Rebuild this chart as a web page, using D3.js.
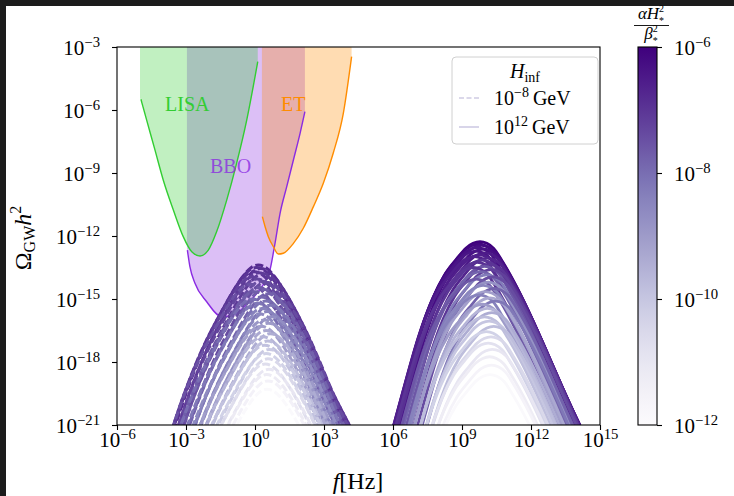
<!DOCTYPE html>
<html>
<head>
<meta charset="utf-8">
<script src="https://cdn.jsdelivr.net/npm/d3@7"></script>
<style>
	body { margin: 0; background: #fff; }
	svg { display: block; font-family: "Liberation Serif", "DejaVu Serif", serif; }
</style>
</head>
<body>
<svg id="chart" width="734" height="496"></svg>
<script>
// tick exponents (labels are 10^n)
const xTickExps = [-6, -3, 0, 3, 6, 9, 12, 15];
const yTickExps = [-21, -18, -15, -12, -9, -6, -3];
const cbarTickExps = [-12, -10, -8, -6];

// detector sensitivity curves, log10 f and log10 Omega h^2
const lisaLogF = [-5.0, -4.96, -4.71, -4.35, -3.99, -3.55, -3.12, -2.75, -2.39, -2.03, -1.67, -1.23, -0.80, -0.36, 0.12];
const lisaLogOmega = [-5.45, -5.49, -6.48, -7.9, -9.33, -10.76, -12.03, -12.75, -12.95, -12.67, -11.8, -10.29, -8.54, -6.48, -3.7];
const etLogF = [0.30, 0.32, 0.44, 0.58, 0.80, 1.01, 1.23, 1.67, 2.10, 2.54, 2.97, 3.40, 3.84, 4.20];
const etLogOmega = [-11.0, -11.08, -11.56, -12.03, -12.51, -12.86, -12.82, -12.35, -11.63, -10.6, -9.49, -8.06, -6.16, -3.46];
const bboLogF = [-2.96, -2.94, -2.83, -2.61, -2.10, -1.45, -0.9, -0.4, 0.1, 0.4, 0.65, 0.87, 1.09, 1.38, 1.67, 1.96, 2.17];
const bboLogOmega = [-12.6, -12.67, -13.46, -14.25, -15.13, -15.84, -15.75, -15.3, -14.7, -14.25, -13.62, -12.35, -10.92, -9.65, -8.38, -7.11, -6.08];

// spectral shape around the peak (offsets in decades)
const shapeLogDF = [-5, -4.5, -4, -3.5, -3, -2.5, -2, -1.5, -1, -0.6, -0.3, 0, 0.3, 0.6, 1, 1.5, 2, 2.5, 3, 3.5, 4, 4.5, 5];
const lowShapeLogDO = [-12.4, -10.7, -9.0, -7.3, -5.7, -4.3, -3.1, -2.07, -1.1, -0.45, -0.12, 0, -0.1, -0.4, -1.0, -1.95, -3.05, -4.3, -5.6, -6.7, -7.75, -8.9, -10.0];
const highShapeLogDO = [-14.0, -12.0, -10.0, -8.0, -6.0, -4.1, -2.6, -1.52, -0.8, -0.3, -0.08, 0, -0.08, -0.32, -0.98, -1.95, -3.05, -4.25, -5.5, -6.75, -7.95, -9.1, -10.3];

// H_inf = 1e-8 GeV spectra (dashed): peak position and colour value
const lowPeakLogF = [0.14, 0.06, 0.24, -0.04, 0.16, 0.36, -0.12, 0.08, 0.28, 0.48, -0.22, 0.18, 0.40, -0.02, 0.58, 0.26, -0.12, 0.46, 0.10, 0.66,
	0.32, 0.52, 0.18, 0.72, 0.40, 0.58, 0.26, 0.48, 0.66, 0.34, 0.54, 0.42, 0.62, 0.48, 0.56, 0.44, 0.60, 0.50, 0.56, 0.52];
const lowPeakLogOmega = [-13.38, -13.5, -13.55, -13.7, -13.75, -13.8, -13.95, -14.05, -14.15, -14.2, -14.3, -14.45, -14.55, -14.65, -14.75, -14.9, -15.0, -15.1, -15.2, -15.3,
	-15.45, -15.6, -15.7, -15.85, -16.0, -16.15, -16.3, -16.5, -16.65, -16.8, -17.0, -17.2, -17.4, -17.6, -17.85, -18.1, -18.35, -18.6, -18.9, -19.3];
const lowLogColor = [-6.8, -6.9, -6.9, -7.0, -7.1, -7.1, -7.2, -7.3, -7.4, -7.4, -7.5, -7.6, -7.7, -7.7, -7.8, -7.9, -8.0, -8.1, -8.2, -8.2,
	-8.4, -8.5, -8.6, -8.7, -8.9, -9.0, -9.1, -9.3, -9.4, -9.6, -9.8, -9.9, -10.1, -10.3, -10.5, -10.7, -11.0, -11.2, -11.5, -11.9];

// H_inf = 1e12 GeV spectra (solid)
const highPeakLogF = [9.78, 9.72, 9.86, 9.66, 9.92, 9.60, 10.00, 9.76, 9.54, 10.10, 9.88, 9.66, 10.18, 9.98, 9.50, 10.26, 9.80, 10.06, 10.34, 9.62,
	10.14, 9.92, 10.40, 10.02, 9.74, 10.22, 10.46, 9.88, 10.10, 10.30, 9.98, 10.18, 10.38, 10.06, 10.26, 10.14, 10.32, 10.20, 10.28, 10.22];
const highPeakLogOmega = [-12.27, -12.38, -12.45, -12.55, -12.62, -12.72, -12.8, -12.9, -12.98, -13.05, -13.15, -13.25, -13.35, -13.45, -13.5, -13.6, -13.7, -13.85, -13.95, -14.05,
	-14.2, -14.35, -14.5, -14.65, -14.8, -14.95, -15.1, -15.25, -15.45, -15.65, -15.85, -16.05, -16.3, -16.55, -16.8, -17.1, -17.4, -17.75, -18.15, -18.6];
const highLogColor = [-6.0, -6.1, -6.2, -6.3, -6.3, -6.4, -6.5, -6.6, -6.6, -6.7, -7.0, -6.9, -7.0, -7.6, -7.0, -7.2, -7.8, -8.3, -7.4, -7.6,
	-8.8, -8.5, -7.8, -9.1, -8.4, -9.3, -8.2, -9.0, -9.6, -9.4, -9.8, -10.0, -9.8, -10.3, -10.5, -10.8, -11.0, -11.3, -11.6, -11.9];

const svg = d3.select('#chart');
const W = 734, H = 496;
const p = (e) => Math.pow(10, e);

// dark frame strips of the screenshot
svg.append('rect').attr('x', 0).attr('y', 0).attr('width', W).attr('height', 6).attr('fill', '#1c1c1c');
svg.append('rect').attr('x', 0).attr('y', 0).attr('width', 6).attr('height', H).attr('fill', '#1c1c1c');

const x = d3.scaleLog().domain([1e-6, 1e15]).range([117, 600]);
const y = d3.scaleLog().domain([1e-21, 1e-3]).range([425, 47]);
const cScale = d3.scaleLog().domain([1e-12, 1e-6]).range([0, 1]);
const colour = (e) => d3.interpolatePurples(cScale(p(e)));

const x0 = x.range()[0], x1 = x.range()[1], y0 = y.range()[1], y1 = y.range()[0];

svg.append('clipPath').attr('id', 'plotclip')
	.append('rect').attr('x', x0).attr('y', y0).attr('width', x1 - x0).attr('height', y1 - y0);

const plot = svg.append('g').attr('clip-path', 'url(#plotclip)');

// detector regions
function detector(logF, logO, col) {
	const pts = logF.map((f, i) => [p(f), p(logO[i])]);
	const area = d3.area()
		.x(d => x(d[0]))
		.y0(y(1e-3) - 2)
		.y1(d => y(d[1]))
		.curve(d3.curveMonotoneX);
	plot.append('path').datum(pts).attr('d', area)
		.attr('fill', col).attr('fill-opacity', 0.3);
	return pts;
}
const bboPts = detector(bboLogF, bboLogOmega, 'blueviolet');
const lisaPts = detector(lisaLogF, lisaLogOmega, 'limegreen');
const etPts = detector(etLogF, etLogOmega, 'darkorange');

const line = d3.line().x(d => x(d[0])).y(d => y(d[1])).curve(d3.curveMonotoneX);
[[bboPts, 'blueviolet'], [lisaPts, 'limegreen'], [etPts, 'darkorange']].forEach(([pts, col]) => {
	plot.append('path').datum(pts.slice(1)).attr('d', line)
		.attr('fill', 'none').attr('stroke', col).attr('stroke-width', 1.4);
});

// GW spectra
function family(peakF, peakO, logC, shape, width, dash) {
	const g = plot.append('g');
	peakF.forEach((pf, i) => {
		const pts = shapeLogDF.map((df, k) => [p(pf + df), p(peakO[i] + shape[k])]);
		g.append('path').datum(pts).attr('d', line)
			.attr('fill', 'none')
			.attr('stroke', colour(logC[i]))
			.attr('stroke-width', width)
			.attr('stroke-dasharray', dash);
	});
}
family(lowPeakLogF, lowPeakLogOmega, lowLogColor, lowShapeLogDO, 3, '8,3');
family(highPeakLogF, highPeakLogOmega, highLogColor, highShapeLogDO, 2.8, null);

// detector labels
svg.append('text').attr('x', 165).attr('y', 111).attr('font-size', 20).attr('fill', 'limegreen').text('LISA');
svg.append('text').attr('x', 281).attr('y', 111).attr('font-size', 20).attr('fill', 'darkorange').text('ET');
svg.append('text').attr('x', 210).attr('y', 173).attr('font-size', 20).attr('fill', 'blueviolet').attr('fill-opacity', 0.8).text('BBO');

// frame
svg.append('rect').attr('x', x0).attr('y', y0).attr('width', x1 - x0).attr('height', y1 - y0)
	.attr('fill', 'none').attr('stroke', '#000').attr('stroke-width', 1.1);

const fs = 21;

function powLabel(text, e, size) {
	text.text(null);
	text.append('tspan').text('10');
	text.append('tspan').attr('dy', -8).attr('font-size', size * 0.7)
		.text(e < 0 ? '\u2212' + (-e) : String(e));
}

function styleAxis(g, textAttrs) {
	g.attr('font-family', null).attr('font-size', fs);
	g.select('.domain').remove();
	g.selectAll('.tick line').attr('stroke-width', 1.1);
	const t = g.selectAll('.tick text');
	Object.entries(textAttrs).forEach(([k, v]) => t.attr(k, v));
	t.each(function (d) { powLabel(d3.select(this), Math.round(Math.log10(d)), fs); });
}

// x axis
svg.append('g').attr('transform', `translate(0,${y1})`)
	.call(d3.axisBottom(x).tickValues(xTickExps.map(p)).tickSize(5).tickFormat(() => ''))
	.call(styleAxis, { y: 22, dy: null });

// y axis
svg.append('g').attr('transform', `translate(${x0},0)`)
	.call(d3.axisLeft(y).tickValues(yTickExps.map(p)).tickSize(5).tickPadding(12).tickFormat(() => ''))
	.call(styleAxis, { dy: '0.38em' });

// axis titles
const xt = svg.append('text').attr('x', 358).attr('y', 489).attr('text-anchor', 'middle').attr('font-size', 24);
xt.append('tspan').attr('font-style', 'italic').text('f');
xt.append('tspan').text('[Hz]');

const yt = svg.append('text').attr('transform', 'translate(31,238) rotate(-90)').attr('text-anchor', 'middle').attr('font-size', 24);
yt.append('tspan').text('\u03A9');
yt.append('tspan').attr('font-size', 16).attr('dy', 4).text('GW');
yt.append('tspan').attr('font-style', 'italic').attr('dy', -4).text('h');
yt.append('tspan').attr('font-size', 16).attr('dy', -10).text('2');

// colour bar
const cbX = 638, cbW = 19;
const grad = svg.append('defs').append('linearGradient').attr('id', 'cbgrad')
	.attr('x1', 0).attr('y1', 1).attr('x2', 0).attr('y2', 0);
d3.range(0, 1.0001, 0.05).forEach(t => {
	grad.append('stop').attr('offset', t).attr('stop-color', d3.interpolatePurples(t));
});
const cy = d3.scaleLog().domain([1e-12, 1e-6]).range([y1, y0]);
svg.append('rect').attr('x', cbX).attr('y', y0).attr('width', cbW).attr('height', y1 - y0)
	.attr('fill', 'url(#cbgrad)').attr('stroke', '#000').attr('stroke-width', 1.1);
svg.append('g').attr('transform', `translate(${cbX + cbW},0)`)
	.call(d3.axisRight(cy).tickValues(cbarTickExps.map(p)).tickSize(5).tickPadding(12).tickFormat(() => ''))
	.call(styleAxis, { dy: '0.38em' });

// colour bar title: alpha H*^2 / beta*^2
function fracPart(yBase, base) {
	const t = svg.append('text').attr('x', 651).attr('y', yBase).attr('text-anchor', 'middle').attr('font-size', 17);
	t.append('tspan').attr('font-style', 'italic').text(base);
	t.append('tspan').attr('font-size', 10).attr('dy', -7).text('2');
	t.append('tspan').attr('font-size', 10).attr('dx', -5).attr('dy', 12).text('*');
}
fracPart(19, '\u03B1H');
svg.append('line').attr('x1', 634).attr('x2', 669).attr('y1', 25.5).attr('y2', 25.5).attr('stroke', '#000').attr('stroke-width', 0.9);
fracPart(39, '\u03B2');

// legend
const lg = svg.append('g');
lg.append('rect').attr('x', 452).attr('y', 57).attr('width', 146).attr('height', 87).attr('rx', 4)
	.attr('fill', '#fff').attr('fill-opacity', 0.8).attr('stroke', '#d0d0d0');
const lt = lg.append('text').attr('x', 525).attr('y', 78).attr('text-anchor', 'middle').attr('font-size', 20);
lt.append('tspan').attr('font-style', 'italic').text('H');
lt.append('tspan').attr('font-size', 14).attr('dy', 4).text('inf');
const legendRows = [{ label: -8, dash: '5,2.5', y: 98 }, { label: 12, dash: null, y: 127 }];
legendRows.forEach(r => {
	lg.append('line').attr('x1', 459).attr('x2', 479).attr('y1', r.y).attr('y2', r.y)
		.attr('stroke', '#cfcbe4').attr('stroke-width', 1.6).attr('stroke-dasharray', r.dash);
	const t = lg.append('text').attr('x', 494).attr('y', r.y + 7).attr('font-size', 20);
	t.append('tspan').text('10');
	t.append('tspan').attr('font-size', 14).attr('dy', -8).text(r.label < 0 ? '\u2212' + (-r.label) : r.label);
	t.append('tspan').attr('dy', 8).text('\u2009GeV');
});
</script>
</body>
</html>
